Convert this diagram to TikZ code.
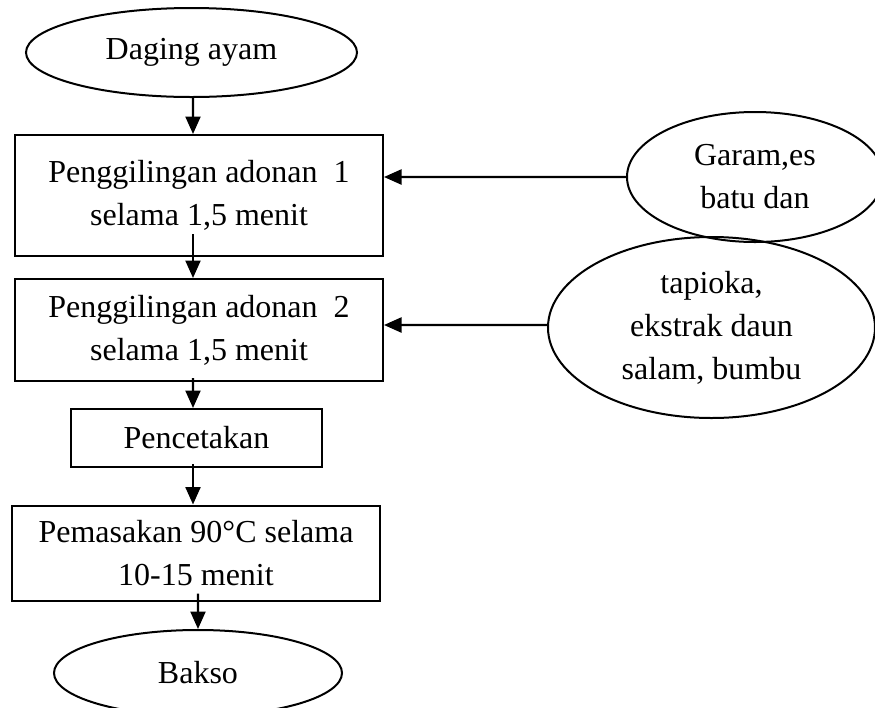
\documentclass[tikz,border=0pt]{standalone}
\usepackage{fontspec}
\setmainfont{Liberation Serif}
\usetikzlibrary{shapes,arrows.meta}
\tikzset{
	proses/.style={draw, line width=.8pt, rectangle, inner sep=0pt, align=center},
	bahan/.style={draw, line width=.8pt, ellipse, inner sep=0pt, align=center},
	alur/.style={line width=.9pt, -{Triangle[length=7pt,width=6pt]}}
}

\begin{document}
\begin{tikzpicture}[x=.4pt,y=-.4pt,font=\fontsize{12.8}{17.2}\selectfont]
			% frame of the page
			\clip (0,0) rectangle (875,708);
			
			% draw main flow
			\node[bahan, minimum width=132.4pt, minimum height=35.6pt] (daging) at (191.5,52.5) {Daging ayam};
			\node[proses, minimum width=147.2pt, minimum height=48.4pt] (giling1) at (199,195.5) {Penggilingan adonan~~1\\selama 1,5 menit};
			\node[proses, minimum width=147.2pt, minimum height=40.8pt] (giling2) at (199,330) {Penggilingan adonan~~2\\selama 1,5 menit};
			\node[proses, minimum width=100.4pt, minimum height=23.2pt] (cetak) at (196.5,438) {Pencetakan};
			\node[proses, minimum width=147.2pt, minimum height=38pt] (masak) at (196,553) {Pemasakan 90°C selama\\10-15 menit};
			\node[bahan, minimum width=115.2pt, minimum height=34.4pt] (bakso) at (198,673) {Bakso};
			
			% draw side inputs
			\node[bahan, minimum width=102.4pt, minimum height=52pt] (garam) at (755,177) {Garam,es\\batu dan};
			\node[bahan, minimum width=130.8pt, minimum height=72.4pt] (tapioka) at (711.5,327.5) {tapioka,\\ekstrak daun\\salam, bumbu};
			
			% draw arrows
			\draw[alur] ([xshift=.6pt]daging.south) -- ([xshift=-2.4pt]giling1.north);
			\draw[alur, shorten <=-9.2pt] ([xshift=-2.4pt]giling1.south) -- ([xshift=-2.4pt]giling2.north);
			\draw[alur, shorten <=-1.6pt] ([xshift=-2.4pt]giling2.south) -- ([xshift=-1.4pt]cetak.north);
			\draw[alur, shorten <=-1.6pt] ([xshift=-1.4pt]cetak.south) -- ([xshift=-1.2pt]masak.north);
			\draw[alur, shorten <=-3.2pt] ([xshift=.8pt]masak.south) -- (bakso.north);
			\draw[alur] (garam.west) -- ([yshift=7.4pt]giling1.east);
			\draw[alur] ([yshift=1pt]tapioka.west) -- ([yshift=2pt]giling2.east);
		\end{tikzpicture}
\end{document}
